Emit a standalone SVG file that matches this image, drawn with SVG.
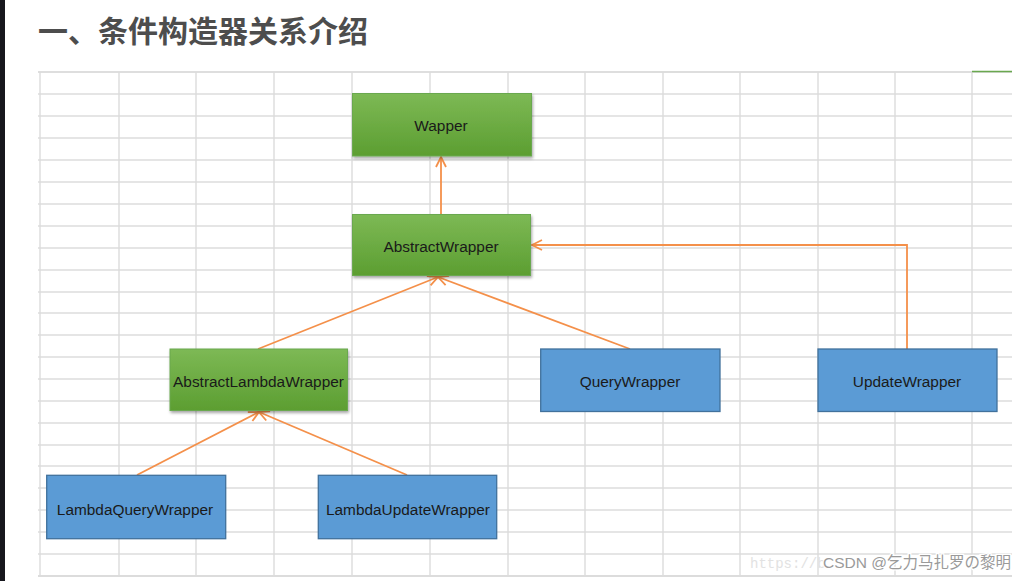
<svg xmlns="http://www.w3.org/2000/svg" width="1012" height="581" viewBox="0 0 1012 581">
<style>
.grid line{stroke:#dcdcdc;stroke-width:1.4}
.lbl{font-family:"Liberation Sans","Noto Sans",sans-serif;font-size:15.4px;fill:#1a1a1a;text-anchor:middle;dominant-baseline:central}
.green{fill:url(#gg);stroke:#6aa84f;stroke-width:1;filter:url(#sh)}
.blue{fill:#5b9bd5;stroke:#41719c;stroke-width:1.3}
.conn{stroke:#f4904a;stroke-width:1.8;fill:none;marker-end:url(#arr)}
</style>
<defs>
<linearGradient id="gg" x1="0" y1="0" x2="0" y2="1">
<stop offset="0" stop-color="#7db955"/>
<stop offset="1" stop-color="#5c9e31"/>
</linearGradient>
<filter id="sh" x="-10%" y="-10%" width="120%" height="130%">
<feDropShadow dx="1" dy="2" stdDeviation="1.5" flood-color="#000" flood-opacity="0.35"/>
</filter>
<marker id="arr" markerWidth="14" markerHeight="14" refX="11" refY="6" orient="auto" markerUnits="userSpaceOnUse" viewBox="0 0 14 12">
<path d="M1,1 L11,6 L1,11" fill="none" stroke="#f4904a" stroke-width="1.8"/>
</marker>
</defs>
<rect width="1012" height="581" fill="#ffffff"/>
<rect x="0" y="0" width="5" height="581" fill="#17171d"/>
<text x="38" y="42" font-family="Noto Sans CJK SC, sans-serif" font-weight="bold" font-size="30" fill="#4d4d4d">一、条件构造器关系介绍</text>
<g class="grid">
<line x1="38" y1="72" x2="1012" y2="72" style="stroke-width:2.2;stroke:#dedede"/>
<line x1="38" y1="94" x2="1012" y2="94"/>
<line x1="38" y1="116" x2="1012" y2="116"/>
<line x1="38" y1="138" x2="1012" y2="138"/>
<line x1="38" y1="160" x2="1012" y2="160"/>
<line x1="38" y1="182" x2="1012" y2="182"/>
<line x1="38" y1="204" x2="1012" y2="204"/>
<line x1="38" y1="226" x2="1012" y2="226"/>
<line x1="38" y1="248" x2="1012" y2="248"/>
<line x1="38" y1="270" x2="1012" y2="270"/>
<line x1="38" y1="292" x2="1012" y2="292"/>
<line x1="38" y1="313" x2="1012" y2="313"/>
<line x1="38" y1="335" x2="1012" y2="335"/>
<line x1="38" y1="357" x2="1012" y2="357"/>
<line x1="38" y1="379" x2="1012" y2="379"/>
<line x1="38" y1="401" x2="1012" y2="401"/>
<line x1="38" y1="423" x2="1012" y2="423"/>
<line x1="38" y1="445" x2="1012" y2="445"/>
<line x1="38" y1="466" x2="1012" y2="466"/>
<line x1="38" y1="488" x2="1012" y2="488"/>
<line x1="38" y1="510" x2="1012" y2="510"/>
<line x1="38" y1="532" x2="1012" y2="532"/>
<line x1="38" y1="554" x2="1012" y2="554"/>
<line x1="38" y1="576" x2="1012" y2="576" style="stroke-width:2"/>
<line x1="40" y1="72" x2="40" y2="576"/>
<line x1="119" y1="72" x2="119" y2="576"/>
<line x1="196" y1="72" x2="196" y2="576"/>
<line x1="274" y1="72" x2="274" y2="576"/>
<line x1="352" y1="72" x2="352" y2="576"/>
<line x1="430" y1="72" x2="430" y2="576"/>
<line x1="508" y1="72" x2="508" y2="576"/>
<line x1="585" y1="72" x2="585" y2="576"/>
<line x1="663" y1="72" x2="663" y2="576"/>
<line x1="740" y1="72" x2="740" y2="576"/>
<line x1="818" y1="72" x2="818" y2="576"/>
<line x1="895" y1="72" x2="895" y2="576"/>
<line x1="972" y1="72" x2="972" y2="576"/>
</g>
<line x1="972" y1="71.5" x2="1012" y2="71.5" stroke="#6aa84f" stroke-width="1.5"/>
<g id="connectors">
<line class="conn" x1="441" y1="214" x2="441" y2="157"/>
<line class="conn" x1="258" y1="349" x2="438" y2="277"/>
<line class="conn" x1="630" y1="349" x2="438" y2="277"/>
<polyline class="conn" points="907,349 907,245 532,245"/>
<line class="conn" x1="137" y1="475" x2="259" y2="412"/>
<line class="conn" x1="407" y1="475" x2="259" y2="412"/>
</g>
<g id="wapper">
<rect class="green" x="352.5" y="93.5" width="179" height="62.5"/>
<text class="lbl" x="441" y="125">Wapper</text>
</g>
<g id="abstractwrapper">
<rect class="green" x="352.5" y="214.5" width="178" height="61"/>
<text class="lbl" x="441" y="246">AbstractWrapper</text>
</g>
<g id="abstractlambdawrapper">
<rect class="green" x="170" y="349" width="177.5" height="61.5"/>
<text class="lbl" x="258.5" y="381">AbstractLambdaWrapper</text>
</g>
<g id="querywrapper">
<rect class="blue" x="540.7" y="349" width="179.3" height="62.5"/>
<text class="lbl" x="630" y="381">QueryWrapper</text>
</g>
<g id="updatewrapper">
<rect class="blue" x="818" y="349" width="179" height="62.5"/>
<text class="lbl" x="907" y="381">UpdateWrapper</text>
</g>
<g id="lambdaquerywrapper">
<rect class="blue" x="46.7" y="475.3" width="179" height="63.4"/>
<text class="lbl" x="135" y="509">LambdaQueryWrapper</text>
</g>
<g id="lambdaupdatewrapper">
<rect class="blue" x="318.3" y="475.3" width="178.4" height="63.4"/>
<text class="lbl" x="408" y="509">LambdaUpdateWrapper</text>
</g>
<text x="750" y="568" font-family="Liberation Mono, monospace" font-size="14" fill="#e2e2e2">https://b</text>
<text x="823" y="568" font-family="Liberation Sans, Noto Sans CJK SC, sans-serif" font-size="15.5" fill="#9a9a9a" stroke="#ffffff" stroke-width="2.5" paint-order="stroke">CSDN @乞力马扎罗の黎明</text>
</svg>
